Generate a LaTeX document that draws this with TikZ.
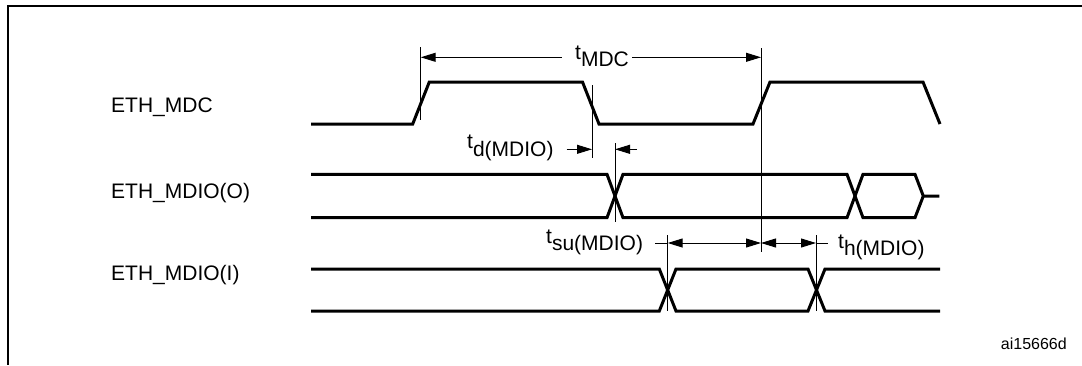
\documentclass[tikz,border=0pt]{standalone}
\usepackage{fontspec}
\setmainfont{Liberation Sans}
\usetikzlibrary{arrows.meta}
\newcommand{\tlab}[1]{t\raisebox{-7.3pt}{#1}}
\begin{document}
\begin{tikzpicture}[x=1pt,y=-1pt,
  sig/.style={line width=3pt, line join=miter},
  guide/.style={line width=1pt},
  dimarrow/.style={line width=1pt, -{Triangle[length=15pt,width=9pt]}},
  dimboth/.style={line width=1pt, {Triangle[length=15pt,width=9pt]}-{Triangle[length=15pt,width=9pt]}},
  lab/.style={font=\fontsize{21}{25}\selectfont, inner sep=0pt, anchor=base west},
  small/.style={font=\fontsize{16}{19}\selectfont, inner sep=0pt, anchor=base west},
]
\useasboundingbox (0,0) rectangle (1082,365);
% frame
\draw[line width=2.4pt] (1082,5.8) -- (7.8,5.8) -- (7.8,365);

% signal names
\node[lab] (lmdc) at (111,112) {ETH\_MDC};
\node[lab] (lmo) at (111,198.5) {ETH\_MDIO(O)};
\node[lab] (lmi) at (111,280) {ETH\_MDIO(I)};
\node[small] (ref) at (1000.7,349) {ai15666d};

% ETH_MDC
\draw[sig] (311,124) -- (412.7,124) -- (429.3,82) -- (582.5,82) -- (599,124)
  -- (753,124) -- (770,82) -- (923,82) -- (940,124);

% ETH_MDIO(O)
\draw[sig] (311,174.3) -- (607,174.3) -- (623,217.7) -- (847,217.7) -- (863,174.3)
  -- (915,174.3) -- (923.3,196) -- (939.3,196);
\draw[sig] (311,217.7) -- (607,217.7) -- (623,174.3) -- (847,174.3) -- (863,217.7)
  -- (915,217.7) -- (923.3,196);

% ETH_MDIO(I)
\draw[sig] (311,269) -- (659.3,269) -- (676,311) -- (808,311) -- (825,269) -- (940,269);
\draw[sig] (311,311) -- (659.3,311) -- (676,269) -- (808,269) -- (825,311) -- (940,311);

% guide lines
\coordinate (g1a) at (420.7,47);  \coordinate (g1b) at (420.7,120);
\coordinate (g2a) at (761,48);    \coordinate (g2b) at (761,252);
\coordinate (g3a) at (592,85);    \coordinate (g3b) at (592,158);
\coordinate (g4a) at (615,143);   \coordinate (g4b) at (615,222);
\coordinate (g5a) at (667.7,235); \coordinate (g5b) at (667.7,311);
\coordinate (g6a) at (816,235);   \coordinate (g6b) at (816,311);
\draw[guide] (g1a) -- (g1b);
\draw[guide] (g2a) -- (g2b);
\draw[guide] (g3a) -- (g3b);
\draw[guide] (g4a) -- (g4b);
\draw[guide] (g5a) -- (g5b);
\draw[guide] (g6a) -- (g6b);

% t_MDC
\node[lab] (tmdc) at (575,59.3) {\tlab{MDC}};
\coordinate (m1) at (561.7,57.3);
\coordinate (m2) at (632,57.3);
\draw[dimarrow] (m1) -- (g1a |- m1);
\draw[dimarrow] (m2) -- (g2a |- m2);

% t_d(MDIO)
\node[lab] (td) at (467,148.7) {\tlab{d(MDIO)}};
\coordinate (d1) at (566.7,149.3);
\coordinate (d2) at (637,149.3);
\draw[dimarrow] (d1) -- (g3a |- d1);
\draw[dimarrow] (d2) -- (g4a |- d2);

% t_su(MDIO) and t_h(MDIO)
\node[lab] (tsu) at (546,243.4) {\tlab{su(MDIO)}};
\node[lab] (th) at (838,248) {\tlab{h(MDIO)}};
\coordinate (s0) at (655,243);
\coordinate (h9) at (828,243);
\draw[guide] (s0) -- (g5a |- s0);
\draw[dimboth] (g5a |- s0) -- (g2a |- s0);
\draw[dimboth] (g2a |- s0) -- (g6a |- s0);
\draw[guide] (g6a |- s0) -- (h9);
\end{tikzpicture}
\end{document}
